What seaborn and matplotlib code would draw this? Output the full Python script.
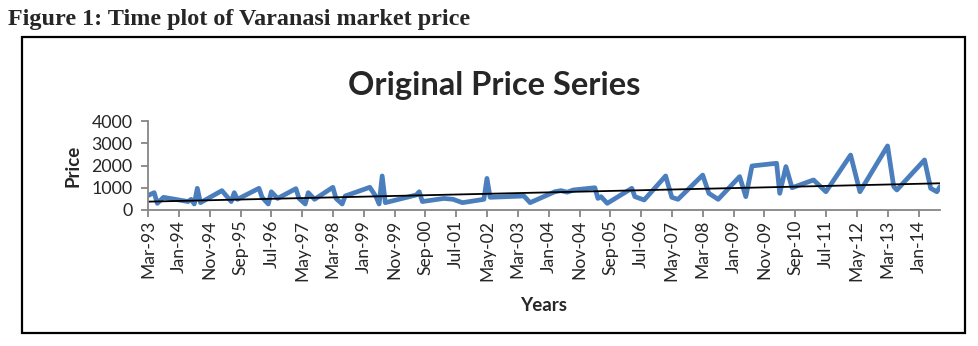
import pandas as pd
import matplotlib
matplotlib.use("Agg")
import matplotlib.pyplot as plt
from matplotlib.patches import Rectangle
import seaborn as sns

# Varanasi market price observations (Rs/quintal), month of record
dates = [
    "1993-03", "1993-05", "1993-06", "1993-08", "1994-04", "1994-05", "1994-06",
    "1994-07", "1994-08", "1995-03", "1995-06", "1995-07", "1995-08", "1996-03",
    "1996-04", "1996-06", "1996-07", "1996-09", "1997-03", "1997-04", "1997-06",
    "1997-07", "1997-09", "1998-03", "1998-04", "1998-06", "1998-07", "1999-03",
    "1999-05", "1999-06", "1999-07", "1999-08", "2000-06", "2000-07", "2000-08",
    "2001-03", "2001-06", "2001-09", "2002-04", "2002-05", "2002-06", "2003-05",
    "2003-07", "2004-03", "2004-05", "2004-07", "2004-09", "2005-04", "2005-05",
    "2005-06", "2005-08", "2006-04", "2006-05", "2006-08", "2007-03", "2007-05",
    "2007-07", "2008-03", "2008-05", "2008-08", "2009-03", "2009-05", "2009-07",
    "2010-03", "2010-04", "2010-06", "2010-08", "2011-03", "2011-07", "2012-03",
    "2012-06", "2013-03", "2013-05", "2013-06", "2014-03", "2014-05", "2014-07",
    "2014-08",
]
prices = [
    650, 780, 300, 570, 380, 480, 270,
    975, 330, 870, 380, 780, 480, 975,
    570, 270, 820, 520, 960, 520, 270,
    780, 480, 1020, 520, 270, 630, 1020,
    600, 270, 1530, 330, 675, 820, 380,
    520, 480, 330, 480, 1420, 570, 630,
    330, 820, 870, 800, 900, 1000, 520,
    600, 300, 975, 600, 450, 1530, 570,
    480, 1570, 750, 480, 1500, 600, 1980,
    2100, 750, 1950, 1000, 1350, 820, 2470,
    820, 2880, 1050, 900, 2250, 975, 820,
    1050,
]
# linear trend line: value at the first and last month
trend_dates = ["1993-03", "2014-08"]
trend_values = [375, 1200]
y_ticks = [0, 1000, 2000, 3000, 4000]

df = pd.DataFrame({"date": pd.to_datetime(dates), "price": prices})
trend = pd.DataFrame({"date": pd.to_datetime(trend_dates), "price": trend_values})

sns.set_theme(style="white")
plt.rcParams["font.family"] = ["Lato", "DejaVu Sans"]

fig = plt.figure(figsize=(9.79, 3.46), dpi=100)
fig.patch.set_facecolor("white")

# caption above the framed chart
fig.text(8 / 979, 1 - 20 / 346, "Figure 1: Time plot of Varanasi market price",
         family=["Liberation Serif"], fontweight="bold", fontsize=17.4,
         va="center", ha="left")

# chart frame
fig.add_artist(Rectangle((22 / 979, 1 - 333 / 346), (965 - 22) / 979, (333 - 37) / 346,
                         transform=fig.transFigure, fill=False,
                         edgecolor="black", linewidth=1.6))

fig.text(494 / 979, 1 - 86 / 346, "Original Price Series", fontweight="bold",
         fontsize=23.5, ha="center", va="center")

ax = fig.add_axes([148 / 979, 1 - 210 / 346, (940 - 148) / 979, (210 - 121) / 346])
sns.lineplot(data=df, x="date", y="price", ax=ax, color="#4A7EBD",
             linewidth=3.4, estimator=None, sort=False)
sns.lineplot(data=trend, x="date", y="price", ax=ax, color="black",
             linewidth=1.3, estimator=None)

ax.set_xlim(pd.Timestamp("1993-03-01"), pd.Timestamp("2014-08-01"))
ax.set_ylim(0, 4000)
ax.set_yticks(y_ticks)
ax.set_yticklabels([str(v) for v in y_ticks], fontsize=12.8)

tick_dates = pd.date_range("1993-03-01", "2014-08-01", freq="10MS")
ax.set_xticks(tick_dates)
ax.set_xticklabels([d.strftime("%b-%y") for d in tick_dates], rotation=90, fontsize=12.6)

for side in ["top", "right"]:
    ax.spines[side].set_visible(False)
for side in ["left", "bottom"]:
    ax.spines[side].set_color("#868686")
    ax.spines[side].set_linewidth(1.3)
ax.tick_params(axis="both", which="major", direction="out", length=5, width=1.3,
               color="#868686", pad=2, bottom=True, left=True)
ax.tick_params(axis="y", pad=6)

ax.set_xlabel("Years", fontweight="bold", fontsize=13.5, labelpad=12)
ax.set_ylabel("Price", fontweight="bold", fontsize=13.5, labelpad=7)
ax.grid(False)

fig.savefig("out.png", dpi=100, facecolor="white")
